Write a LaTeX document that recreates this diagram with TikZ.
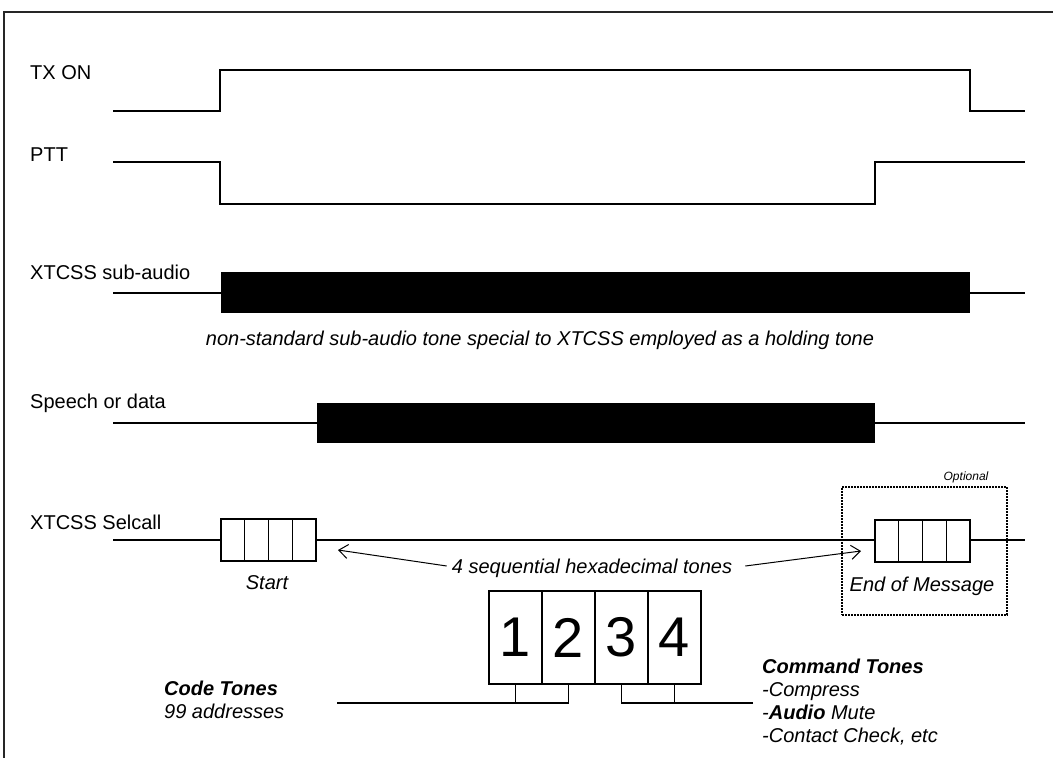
\documentclass[tikz,border=0pt]{standalone}
\usepackage{fontspec}
\setmainfont{Liberation Sans}
\usetikzlibrary{arrows.meta}
\begin{document}
\begin{tikzpicture}[x=1pt,y=-1pt,
 sig/.style={line width=2pt, line join=miter},
 lbl/.style={anchor=west, inner sep=0pt, font=\fontsize{20}{23}\selectfont},
 itx/.style={inner sep=0pt, font=\fontsize{20}{23}\selectfont\itshape},
 blk/.style={fill=black, draw=none, inner sep=0pt, outer sep=0pt},
 cell/.style={draw, line width=1.2pt, minimum width=23.75pt, minimum height=42pt, inner sep=0pt, outer sep=0pt},
 bigcell/.style={draw, line width=1.4pt, minimum width=53pt, minimum height=93pt, inner sep=0pt, outer sep=0pt, font=\fontsize{56}{60}\selectfont},
 br/.style={line width=1.6pt},
 arr/.style={line width=1pt, -{Straight Barb[length=9pt,width=14pt]}},
]
\useasboundingbox (0,0) rectangle (1053,758);
% frame
\draw[line width=1.5pt, black!85] (4,758) -- (4,12) -- (1053,12);

% labels
\node[lbl] (ltx) at (30,73) {TX ON};
\node[lbl] (lptt) at (30,155) {PTT};
\node[lbl] (lsub) at (30,272) {XTCSS sub-audio};
\node[lbl] (lsp) at (30,403) {Speech or data};
\node[lbl] (lsel) at (30,522) {XTCSS Selcall};

% TX ON
\coordinate (txa) at (113,111);
\coordinate (txb) at (1025,111);
\draw[sig] (txa) -- (220,111) -- (220,70) -- (970,70) -- (970,111) -- (txb);

% PTT
\coordinate (pta) at (113,162);
\coordinate (ptb) at (1025,162);
\draw[sig] (pta) -- (220,162) -- (220,204) -- (875,204) -- (875,162) -- (ptb);

% sub-audio
\node[blk, minimum width=749pt, minimum height=41pt] (sub) at (595.5,292.5) {};
\coordinate (suba) at (113,292.5);
\coordinate (subb) at (1025,292.5);
\draw[sig] (suba) -- (sub.west);
\draw[sig] (sub.east) -- (subb);
\node[itx] (cap) at (540,340) {non-standard sub-audio tone special to XTCSS employed as a holding tone};

% speech
\node[blk, minimum width=558pt, minimum height=40pt] (sp) at (596,423) {};
\coordinate (spa) at (113,423);
\coordinate (spb) at (1025,423);
\draw[sig] (spa) -- (sp.west);
\draw[sig] (sp.east) -- (spb);

% selcall start box
\node[cell] (s1) at (232.9,540) {};
\node[cell] (s2) at (256.6,540) {};
\node[cell] (s3) at (280.4,540) {};
\node[cell] (s4) at (304.1,540) {};
% end box
\node[cell] (e1) at (886.9,541) {};
\node[cell] (e2) at (910.6,541) {};
\node[cell] (e3) at (934.4,541) {};
\node[cell] (e4) at (958.1,541) {};
\coordinate (sela) at (113,540);
\coordinate (selb) at (1025,540);
\draw[sig] (sela) -- (s1.west);
\draw[sig] (s4.east) -- (e1.west |- s4.east);
\draw[sig] (e4.east |- sela) -- (selb);

\node[itx] (start) at (267,583) {Start};
\node[itx] (eom) at (922,586) {End of Message};

% optional dotted box
\node[draw, line width=1.3pt, dash pattern=on 1.6pt off 1.4pt, minimum width=165pt, minimum height=128pt, inner sep=0pt] (opt) at (924.5,551) {};
\node[inner sep=0pt, font=\fontsize{12}{14}\selectfont\itshape] (optl) at (966,477) {Optional};

% arrows text
\node[itx] (seq) at (592,568) {4 sequential hexadecimal tones};
\coordinate (tipL) at (338,550);
\coordinate (tipR) at (861,551);
\draw[arr] ([xshift=-5pt,yshift=2pt]seq.west) -- (tipL);
\draw[arr] ([xshift=13pt,yshift=2pt]seq.east) -- (tipR);

% big boxes
\node[bigcell] (c1) at (515.5,637.5) {1};
\node[bigcell] (c2) at (568.5,637.5) {2};
\node[bigcell] (c3) at (621.5,637.5) {3};
\node[bigcell] (c4) at (674.5,637.5) {4};

\coordinate (ctL) at (337,703);
\coordinate (ctR) at (753,703);
\draw[br] (ctL) -| (c2.south);
\draw[br] (c1.south) -- (c1.south |- ctL);
\draw[br] (ctR) -| (c3.south);
\draw[br] (c4.south) -- (c4.south |- ctR);

% code tones
\node[anchor=north west, inner sep=0pt, align=left, font=\fontsize{20}{23}\selectfont\itshape] (code) at (164,681) {\textbf{Code Tones}\\99 addresses};
\node[anchor=north west, inner sep=0pt, align=left, font=\fontsize{20}{23}\selectfont\itshape] (cmd) at (762,659) {\textbf{Command Tones}\\-Compress\\-\textbf{Audio} Mute\\-Contact Check, etc};
\end{tikzpicture}
\end{document}
